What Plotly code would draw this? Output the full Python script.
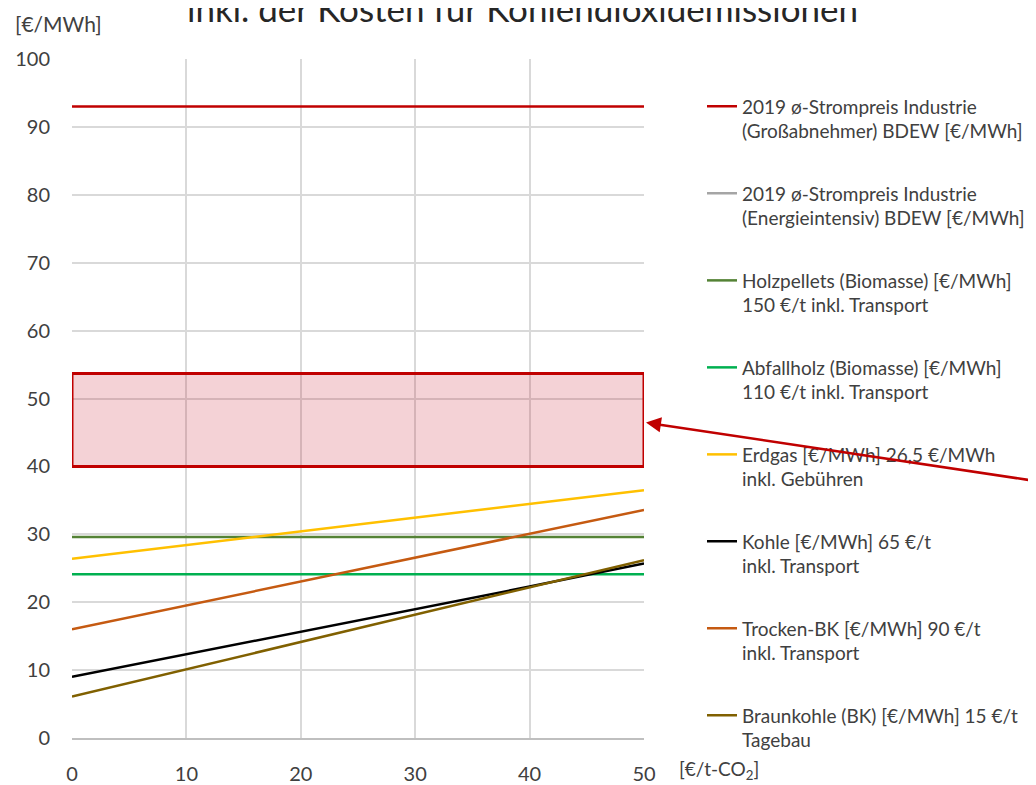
import plotly.graph_objects as go

co2_price = [0, 10, 20, 30, 40, 50]

strompreis_grossabnehmer = [93, 93, 93, 93, 93, 93]
strompreis_energieintensiv = [None, None, None, None, None, None]
holzpellets = [29.6, 29.6, 29.6, 29.6, 29.6, 29.6]
abfallholz = [24.1, 24.1, 24.1, 24.1, 24.1, 24.1]
erdgas = [26.4, 28.4, 30.4, 32.4, 34.5, 36.5]
kohle = [9.0, 12.3, 15.6, 19.0, 22.3, 25.7]
trocken_bk = [16.0, 19.5, 23.0, 26.6, 30.1, 33.6]
braunkohle = [6.1, 10.1, 14.1, 18.2, 22.2, 26.2]

series_names = [
    "2019 ø-Strompreis Industrie<br>(Großabnehmer) BDEW [€/MWh]",
    "2019 ø-Strompreis Industrie<br>(Energieintensiv) BDEW [€/MWh]",
    "Holzpellets (Biomasse) [€/MWh]<br>150 €/t inkl. Transport",
    "Abfallholz (Biomasse) [€/MWh]<br>110 €/t inkl. Transport",
    "Erdgas [€/MWh] 26,5 €/MWh<br>inkl. Gebühren",
    "Kohle [€/MWh] 65 €/t<br>inkl. Transport",
    "Trocken-BK [€/MWh] 90 €/t<br>inkl. Transport",
    "Braunkohle (BK) [€/MWh] 15 €/t<br>Tagebau",
]
series_values = [strompreis_grossabnehmer, strompreis_energieintensiv, holzpellets,
                 abfallholz, erdgas, kohle, trocken_bk, braunkohle]
series_colors = ["#c00000", "#a5a5a5", "#548235", "#00b050", "#ffc000", "#000000", "#c55a11", "#806000"]

band_low, band_high = 40, 53.7
arrow_target = 46.5

x_ticks = [0, 10, 20, 30, 40, 50]
y_ticks = [0, 10, 20, 30, 40, 50, 60, 70, 80, 90, 100]

FONT = "Lato"
TXT = "#404040"

fig = go.Figure()
for i, (name, vals, col) in enumerate(zip(series_names, series_values, series_colors)):
    fig.add_trace(go.Scatter(x=co2_price, y=vals, mode="lines", name=name,
                             line=dict(color=col, width=2.5), legendgroup=f"g{i}"))

fig.add_shape(type="rect", xref="x", yref="y", x0=0, x1=50, y0=band_low, y1=band_high,
              line=dict(color="#c00000", width=3), fillcolor="rgba(200,30,50,0.2)", layer="above")

fig.add_annotation(x=50, y=arrow_target, xref="x", yref="y", ax=420, ay=60, axref="pixel", ayref="pixel",
                   showarrow=True, arrowhead=2, arrowsize=1.2, arrowwidth=2.5, arrowcolor="#c00000",
                   text=" ", standoff=2)

fig.add_annotation(text="inkl. der Kosten für Kohlendioxidemissionen", xref="paper", yref="paper",
                   x=0.7876, y=1.0412, xanchor="center", yanchor="bottom", showarrow=False,
                   font=dict(family=FONT, size=35, color="#262626"))
fig.add_annotation(text="[€/MWh]", xref="paper", yref="paper", x=-0.103, y=1.053,
                   xanchor="left", yanchor="middle", showarrow=False,
                   font=dict(family=FONT, size=21, color=TXT))
fig.add_annotation(text="[€/t-CO<sub>2</sub>]", xref="paper", yref="paper", x=1.0577, y=-0.047,
                   xanchor="left", yanchor="middle", showarrow=False,
                   font=dict(family=FONT, size=19, color=TXT))

fig.update_layout(
    width=1036, height=785,
    margin=dict(l=64, r=400, t=51, b=55),
    paper_bgcolor="white", plot_bgcolor="white",
    font=dict(family=FONT, color=TXT),
    showlegend=True,
    legend=dict(x=1.1014, y=0.958, xanchor="left", yanchor="top", tracegroupgap=34.6,
                valign="top", font=dict(family=FONT, size=19, color=TXT),
                bgcolor="rgba(0,0,0,0)", itemwidth=30),
    xaxis=dict(range=[0, 50], tickvals=x_ticks, showgrid=True, gridcolor="#d9d9d9", gridwidth=1.5,
               zeroline=False, showline=True, linecolor="#bfbfbf", linewidth=1.5,
               ticklabelstandoff=17, automargin=False,
               tickfont=dict(family=FONT, size=20, color=TXT), ticks=""),
    yaxis=dict(range=[0, 100], tickvals=y_ticks, showgrid=True, gridcolor="#d9d9d9", gridwidth=1.5,
               zeroline=False, showline=False, ticklabelstandoff=21, automargin=False,
               tickfont=dict(family=FONT, size=20, color=TXT), ticks=""),
)

fig.write_html("out.html")
